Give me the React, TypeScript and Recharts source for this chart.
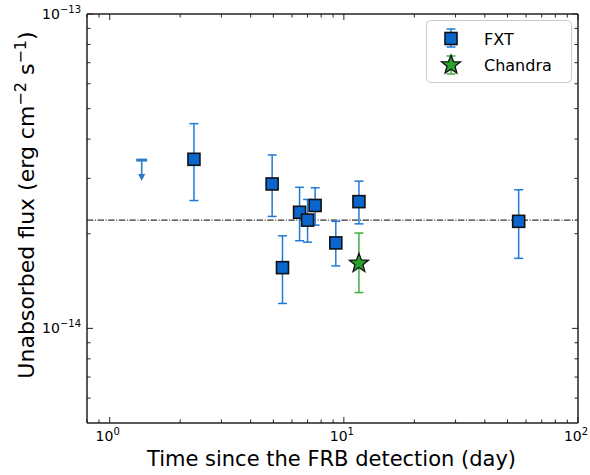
import { ScatterChart, Scatter, XAxis, YAxis, ErrorBar, ReferenceLine, Label } from "recharts";

// FXT detections (time in days, unabsorbed flux in erg cm^-2 s^-1)
const fxtTime = [2.29, 4.94, 5.47, 6.47, 7.0, 7.54, 9.24, 11.6, 55.8];
const fxtFlux = [3.45e-14, 2.88e-14, 1.56e-14, 2.34e-14, 2.21e-14, 2.46e-14, 1.87e-14, 2.53e-14, 2.19e-14];
const fxtLow = [2.55e-14, 2.27e-14, 1.2e-14, 1.9e-14, 1.88e-14, 2.13e-14, 1.58e-14, 2.15e-14, 1.67e-14];
const fxtHigh = [4.48e-14, 3.56e-14, 1.97e-14, 2.81e-14, 2.57e-14, 2.8e-14, 2.19e-14, 2.94e-14, 2.76e-14];

const chandraTime = [11.6];
const chandraFlux = [1.61e-14];
const chandraLow = [1.3e-14];
const chandraHigh = [2.01e-14];

const ulTime = [1.37];
const ulFlux = [3.43e-14];

const meanFlux = 2.21e-14;

const xDomain = [0.8, 100];
const yDomain = [5e-15, 1e-13];
const xTicks = [0.8, 0.9, 1, 2, 3, 4, 5, 6, 7, 8, 9, 10, 20, 30, 40, 50, 60, 70, 80, 90, 100];
const yTicks = [6e-15, 7e-15, 8e-15, 9e-15, 1e-14, 2e-14, 3e-14, 4e-14, 5e-14, 6e-14, 7e-14, 8e-14, 9e-14, 1e-13];

const fxtData = fxtTime.map((t, i) => ({
  t,
  f: fxtFlux[i],
  err: [fxtFlux[i] - fxtLow[i], fxtHigh[i] - fxtFlux[i]],
}));
const chandraData = chandraTime.map((t, i) => ({
  t,
  f: chandraFlux[i],
  err: [chandraFlux[i] - chandraLow[i], chandraHigh[i] - chandraFlux[i]],
}));
const ulData = ulTime.map((t, i) => ({ t, f: ulFlux[i] }));

const FONT = "DejaVu Sans, Verdana, sans-serif";
const SPINE = "#222";
const BLUE_FILL = "#0a66cc";
const BLUE_ERR = "#1f7ad6";
const GREEN_FILL = "#2ca02c";
const GREEN_ERR = "#3fae3f";

const isMajor = (v: number) => Math.abs(Math.log10(v) - Math.round(Math.log10(v))) < 1e-6;
const expText = (v: number) => {
  const e = Math.round(Math.log10(v));
  return e < 0 ? `\u2212${-e}` : `${e}`;
};

function makeXTick(side: "top" | "bottom") {
  return (props: any) => {
    const { x, y, payload } = props;
    const v = payload.value;
    const major = isMajor(v);
    const len = major ? 6 : 3.5;
    const dir = side === "bottom" ? -1 : 1;
    return (
      <g>
        <line x1={x} y1={y} x2={x} y2={y + dir * len} stroke={SPINE} strokeWidth={1} />
        {side === "bottom" && major ? (
          <text x={x - 2} y={y + 18} textAnchor="middle" fontSize={14} fontFamily={FONT} fill="#000">
            10<tspan dy={-6} fontSize={10}>{expText(v)}</tspan>
          </text>
        ) : null}
      </g>
    );
  };
}

function makeYTick(side: "left" | "right") {
  return (props: any) => {
    const { x, y, payload } = props;
    const v = payload.value;
    const major = isMajor(v);
    const len = major ? 6 : 3.5;
    const dir = side === "left" ? 1 : -1;
    return (
      <g>
        <line x1={x} y1={y} x2={x + dir * len} y2={y} stroke={SPINE} strokeWidth={1} />
        {side === "left" && major ? (
          <text x={x - 6} y={y + 5} textAnchor="end" fontSize={14} fontFamily={FONT} fill="#000">
            10<tspan dy={-6} fontSize={10}>{expText(v)}</tspan>
          </text>
        ) : null}
      </g>
    );
  };
}

function Square(props: any) {
  const { cx, cy } = props;
  if (cx == null || cy == null) return null;
  return <rect x={cx - 6} y={cy - 6} width={12} height={12} fill={BLUE_FILL} stroke="#111" strokeWidth={1.6} />;
}

function starPath(cx: number, cy: number, ro: number, ri: number) {
  const pts: string[] = [];
  for (let k = 0; k < 10; k++) {
    const r = k % 2 === 0 ? ro : ri;
    const a = -Math.PI / 2 + (k * Math.PI) / 5;
    pts.push(`${cx + r * Math.cos(a)},${cy + r * Math.sin(a)}`);
  }
  return `M${pts.join("L")}Z`;
}

function Star(props: any) {
  const { cx, cy } = props;
  if (cx == null || cy == null) return null;
  return <path d={starPath(cx, cy, 10, 4.2)} fill={GREEN_FILL} stroke="#111" strokeWidth={1.3} />;
}

function UpperLimit(props: any) {
  const { cx, cy } = props;
  if (cx == null || cy == null) return null;
  const c = "#2b7cc4";
  return (
    <g>
      <line x1={cx - 5.5} y1={cy} x2={cx + 5.5} y2={cy} stroke={c} strokeWidth={3} />
      <line x1={cx} y1={cy} x2={cx} y2={cy + 16} stroke={c} strokeWidth={1.6} />
      <path d={`M${cx - 3.5},${cy + 14}L${cx + 3.5},${cy + 14}L${cx},${cy + 21}Z`} fill={c} />
    </g>
  );
}

function LegendBox() {
  return (
    <svg width={590} height={475} style={{ position: "absolute", left: 0, top: 0, pointerEvents: "none" }}>
      <rect x={426.5} y={20.5} width={145} height={62} rx={4} fill="#fff" fillOpacity={0.8} stroke="#cccccc" />
      <line x1={451} y1={29} x2={451} y2={47} stroke={BLUE_ERR} strokeWidth={1.5} />
      <line x1={446.5} y1={29} x2={455.5} y2={29} stroke={BLUE_ERR} strokeWidth={1.5} />
      <line x1={446.5} y1={47} x2={455.5} y2={47} stroke={BLUE_ERR} strokeWidth={1.5} />
      <Square cx={451} cy={38.5} />
      <text x={484} y={45} fontSize={16} fontFamily={FONT} fill="#000">FXT</text>
      <line x1={451} y1={56} x2={451} y2={74} stroke={GREEN_ERR} strokeWidth={1.5} />
      <line x1={446.5} y1={56} x2={455.5} y2={56} stroke={GREEN_ERR} strokeWidth={1.5} />
      <line x1={446.5} y1={74} x2={455.5} y2={74} stroke={GREEN_ERR} strokeWidth={1.5} />
      <Star cx={451} cy={65} />
      <text x={484} y={71} fontSize={16} fontFamily={FONT} fill="#000">Chandra</text>
    </svg>
  );
}

export default function App() {
  return (
    <div style={{ position: "absolute", left: 0, top: 0, width: 590, height: 475, background: "#fff" }}>
      <ScatterChart width={590} height={475} margin={{ top: 0, right: 0, bottom: 0, left: 0 }}>
        <XAxis
          xAxisId="b"
          dataKey="t"
          type="number"
          scale="log"
          domain={xDomain}
          allowDataOverflow
          ticks={xTicks}
          interval={0}
          orientation="bottom"
          height={52}
          tickSize={0}
          tickMargin={0}
          tickLine={false}
          axisLine={{ stroke: SPINE, strokeWidth: 1.5 }}
          tick={makeXTick("bottom")}
        >
          <Label
            content={({ viewBox }: any) => (
              <text x={viewBox.x + viewBox.width / 2 - 1} y={viewBox.y + 43} textAnchor="middle" fontSize={21} fontFamily={FONT} fill="#000">
                Time since the FRB detection (day)
              </text>
            )}
          />
        </XAxis>
        <XAxis
          xAxisId="t"
          dataKey="t"
          type="number"
          scale="log"
          domain={xDomain}
          allowDataOverflow
          ticks={xTicks}
          interval={0}
          orientation="top"
          height={14}
          tickSize={0}
          tickMargin={0}
          tickLine={false}
          axisLine={{ stroke: SPINE, strokeWidth: 1.5 }}
          tick={makeXTick("top")}
        />
        <YAxis
          yAxisId="l"
          dataKey="f"
          type="number"
          scale="log"
          domain={yDomain}
          allowDataOverflow
          ticks={yTicks}
          interval={0}
          orientation="left"
          width={87}
          tickSize={0}
          tickMargin={0}
          tickLine={false}
          axisLine={{ stroke: SPINE, strokeWidth: 1.5 }}
          tick={makeYTick("left")}
        >
          <Label
            content={() => (
              <text x={34} y={205} transform="rotate(-90, 34, 205)" textAnchor="middle" fontSize={22} fontFamily={FONT} fill="#000">
                Unabsorbed flux (erg cm<tspan dy={-8} fontSize={16}>{"\u22122"}</tspan>
                <tspan dy={8}> s</tspan>
                <tspan dy={-8} fontSize={16}>{"\u22121"}</tspan>
                <tspan dy={8}>)</tspan>
              </text>
            )}
          />
        </YAxis>
        <YAxis
          yAxisId="r"
          dataKey="f"
          type="number"
          scale="log"
          domain={yDomain}
          allowDataOverflow
          ticks={yTicks}
          interval={0}
          orientation="right"
          width={12}
          tickSize={0}
          tickMargin={0}
          tickLine={false}
          axisLine={{ stroke: SPINE, strokeWidth: 1.5 }}
          tick={makeYTick("right")}
        />
        <ReferenceLine
          xAxisId="b"
          yAxisId="l"
          y={meanFlux}
          stroke="#000"
          strokeWidth={1}
          strokeDasharray="6.4 1.6 1 1.6"
        />
        <Scatter xAxisId="b" yAxisId="l" name="upper" data={ulData} shape={UpperLimit} isAnimationActive={false} />
        <Scatter xAxisId="b" yAxisId="l" name="FXT" data={fxtData} shape={Square} isAnimationActive={false}>
          <ErrorBar dataKey="err" direction="y" stroke={BLUE_ERR} strokeWidth={1.5} width={4.5} isAnimationActive={false} />
        </Scatter>
        <Scatter xAxisId="b" yAxisId="l" name="Chandra" data={chandraData} shape={Star} isAnimationActive={false}>
          <ErrorBar dataKey="err" direction="y" stroke={GREEN_ERR} strokeWidth={1.5} width={4.5} isAnimationActive={false} />
        </Scatter>
      </ScatterChart>
      <LegendBox />
    </div>
  );
}
